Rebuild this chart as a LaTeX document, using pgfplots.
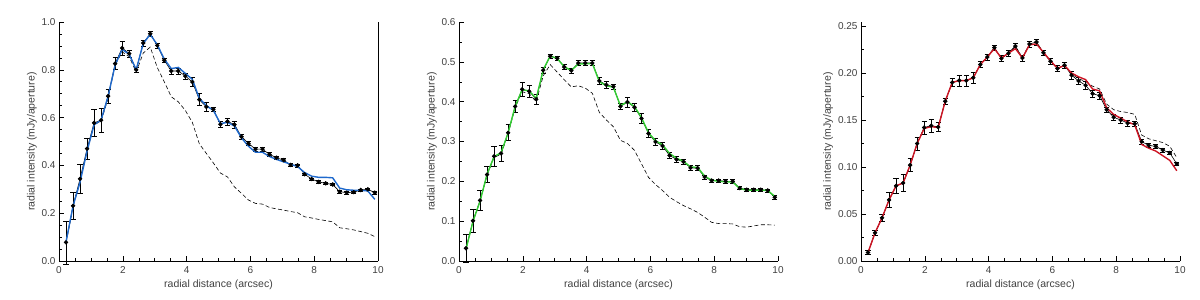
\documentclass[border=0pt]{standalone}
\usepackage{pgfplots}
\usepackage{pgfplotstable}
\usepackage{fontspec}
\setmainfont{Liberation Sans}
\pgfplotsset{compat=1.18}
\definecolor{cblue}{RGB}{30,105,205}
\definecolor{cgreen}{RGB}{50,205,50}
\definecolor{cred}{RGB}{205,20,35}

\pgfplotstableread{
x y e l d
0.22 0.078 0.090 0.080 0.075
0.44 0.231 0.055 0.230 0.225
0.66 0.344 0.060 0.330 0.335
0.88 0.470 0.045 0.460 0.460
1.10 0.578 0.055 0.570 0.570
1.32 0.589 0.050 0.590 0.585
1.54 0.690 0.030 0.690 0.680
1.76 0.826 0.025 0.820 0.820
1.98 0.891 0.030 0.885 0.875
2.20 0.868 0.015 0.865 0.855
2.42 0.800 0.012 0.800 0.790
2.64 0.912 0.012 0.910 0.870
2.86 0.951 0.010 0.948 0.895
3.08 0.902 0.010 0.905 0.810
3.30 0.840 0.010 0.845 0.750
3.52 0.795 0.012 0.805 0.687
3.74 0.795 0.012 0.810 0.666
3.96 0.774 0.012 0.785 0.630
4.18 0.749 0.020 0.760 0.580
4.40 0.675 0.025 0.680 0.490
4.62 0.645 0.020 0.650 0.450
4.84 0.635 0.010 0.630 0.410
5.06 0.572 0.012 0.575 0.368
5.28 0.584 0.015 0.580 0.352
5.50 0.571 0.015 0.565 0.310
5.72 0.520 0.010 0.515 0.283
5.94 0.492 0.008 0.480 0.255
6.16 0.468 0.008 0.455 0.241
6.38 0.468 0.008 0.455 0.238
6.60 0.446 0.008 0.437 0.224
6.82 0.432 0.006 0.425 0.218
7.04 0.422 0.006 0.415 0.213
7.26 0.402 0.006 0.405 0.207
7.48 0.400 0.006 0.395 0.202
7.70 0.363 0.005 0.370 0.185
7.92 0.343 0.005 0.355 0.180
8.14 0.331 0.005 0.350 0.174
8.36 0.325 0.005 0.350 0.169
8.58 0.320 0.005 0.348 0.164
8.80 0.290 0.005 0.305 0.139
9.02 0.286 0.005 0.298 0.135
9.24 0.288 0.005 0.296 0.130
9.46 0.297 0.005 0.296 0.123
9.68 0.300 0.005 0.293 0.116
9.90 0.286 0.005 0.258 0.102
}\tabA

\pgfplotstableread{
x y e l d
0.22 0.032 0.035 0.030 0.030
0.44 0.101 0.030 0.100 0.100
0.66 0.152 0.025 0.150 0.150
0.88 0.217 0.020 0.218 0.215
1.10 0.263 0.025 0.262 0.260
1.32 0.270 0.020 0.272 0.268
1.54 0.322 0.020 0.322 0.320
1.76 0.388 0.015 0.388 0.385
1.98 0.431 0.017 0.430 0.425
2.20 0.426 0.015 0.427 0.420
2.42 0.406 0.012 0.408 0.400
2.64 0.479 0.008 0.480 0.465
2.86 0.514 0.006 0.515 0.493
3.08 0.509 0.006 0.508 0.474
3.30 0.487 0.006 0.488 0.455
3.52 0.478 0.006 0.478 0.437
3.74 0.497 0.006 0.495 0.440
3.96 0.497 0.006 0.495 0.434
4.18 0.497 0.006 0.496 0.421
4.40 0.452 0.008 0.450 0.373
4.62 0.442 0.008 0.440 0.354
4.84 0.438 0.006 0.436 0.337
5.06 0.388 0.008 0.390 0.303
5.28 0.399 0.012 0.400 0.295
5.50 0.386 0.010 0.388 0.278
5.72 0.358 0.012 0.360 0.244
5.94 0.320 0.010 0.322 0.210
6.16 0.299 0.008 0.302 0.192
6.38 0.289 0.008 0.292 0.177
6.60 0.265 0.008 0.270 0.160
6.82 0.255 0.007 0.258 0.149
7.04 0.249 0.007 0.250 0.139
7.26 0.234 0.006 0.236 0.131
7.48 0.233 0.006 0.235 0.122
7.70 0.211 0.005 0.213 0.110
7.92 0.202 0.004 0.203 0.097
8.14 0.202 0.004 0.200 0.094
8.36 0.200 0.004 0.199 0.094
8.58 0.200 0.004 0.198 0.093
8.80 0.183 0.004 0.182 0.086
9.02 0.179 0.004 0.178 0.085
9.24 0.179 0.004 0.178 0.088
9.46 0.179 0.004 0.178 0.091
9.68 0.177 0.004 0.177 0.091
9.90 0.160 0.004 0.162 0.090
}\tabB

\pgfplotstableread{
x y e l d
0.22 0.009 0.002 0.009 0.009
0.44 0.030 0.003 0.030 0.030
0.66 0.046 0.004 0.046 0.046
0.88 0.065 0.008 0.065 0.065
1.10 0.080 0.008 0.080 0.080
1.32 0.083 0.009 0.083 0.083
1.54 0.102 0.007 0.102 0.102
1.76 0.125 0.007 0.125 0.125
1.98 0.142 0.007 0.141 0.142
2.20 0.144 0.007 0.143 0.144
2.42 0.1425 0.005 0.142 0.1425
2.64 0.170 0.003 0.170 0.170
2.86 0.190 0.004 0.190 0.190
3.08 0.192 0.006 0.192 0.192
3.30 0.192 0.006 0.192 0.192
3.52 0.195 0.006 0.195 0.195
3.74 0.209 0.003 0.209 0.209
3.96 0.217 0.003 0.217 0.217
4.18 0.227 0.003 0.226 0.227
4.40 0.2155 0.003 0.216 0.2155
4.62 0.221 0.003 0.221 0.221
4.84 0.2286 0.003 0.226 0.2286
5.06 0.216 0.003 0.216 0.216
5.28 0.2308 0.003 0.230 0.2308
5.50 0.233 0.003 0.231 0.233
5.72 0.2215 0.003 0.222 0.2215
5.94 0.2126 0.003 0.213 0.2126
6.16 0.2048 0.003 0.205 0.2048
6.38 0.2083 0.003 0.208 0.2083
6.60 0.1977 0.004 0.200 0.199
6.82 0.1916 0.004 0.196 0.194
7.04 0.187 0.004 0.193 0.191
7.26 0.178 0.004 0.183 0.186
7.48 0.176 0.004 0.181 0.183
7.70 0.161 0.003 0.163 0.167
7.92 0.153 0.003 0.156 0.161
8.14 0.150 0.003 0.152 0.159
8.36 0.1467 0.003 0.148 0.158
8.58 0.146 0.003 0.145 0.156
8.80 0.127 0.003 0.124 0.134
9.02 0.123 0.002 0.120 0.130
9.24 0.122 0.002 0.117 0.128
9.46 0.118 0.002 0.112 0.126
9.68 0.115 0.002 0.107 0.122
9.90 0.1033 0.002 0.096 0.110
}\tabC

\pgfplotsset{
  panel/.style={
    scale only axis, width=319pt, height=239pt,
    xmin=0, xmax=10, ymin=0,
    axis x line*=bottom, axis y line*=left,
    axis line style={black, line width=0.6pt},
    tick align=inside, tick style={black, line width=0.5pt},
    major tick length=5pt, minor tick length=3pt,
    xtick={0,2,...,10}, minor x tick num=3,
    /pgf/number format/assume math mode=true,
    tick label style={font=\fontsize{10}{12}\selectfont, text=black!75},
    xticklabel style={yshift=-2pt},
    label style={font=\fontsize{10.5}{12}\selectfont, text=black!75},
    xlabel={radial distance (arcsec)},
    ylabel={radial intensity (mJy/aperture)},
    xlabel style={yshift=1pt},
    ylabel style={yshift=-2pt},
    clip=false,
  },
  dsh/.style={black, line width=0.6pt, dash pattern=on 4pt off 2.5pt},
  pts/.style={black, line width=0.6pt, mark=*, mark size=1.9pt,
    error bars/.cd, y dir=both, y explicit,
    error bar style={line width=0.6pt},
    error mark options={rotate=90, mark size=2.6pt, line width=0.6pt}},
}

\begin{document}
\begin{tikzpicture}
\path[use as bounding box] (0,0) rectangle (1200pt,300pt);

\begin{axis}[panel, at={(59pt,39pt)}, anchor=south west,
  ymax=1.0, ytick={0,0.2,...,1.0}, minor y tick num=3,
  yticklabel style={/pgf/number format/.cd, fixed, fixed zerofill, precision=1}]
  \addplot[dsh] table[x=x, y=d] {\tabA};
  \addplot[pts] table[x=x, y=y, y error=e] {\tabA};
  \addplot[cblue, line width=1.4pt] table[x=x, y=l] {\tabA};
  \draw[black, line width=0.6pt] (rel axis cs:1,0) -- (rel axis cs:1,1);
\end{axis}

\begin{axis}[panel, at={(459pt,39pt)}, anchor=south west,
  ymax=0.6, ytick={0,0.1,...,0.6}, minor y tick num=1,
  yticklabel style={/pgf/number format/.cd, fixed, fixed zerofill, precision=1}]
  \addplot[dsh] table[x=x, y=d] {\tabB};
  \addplot[pts] table[x=x, y=y, y error=e] {\tabB};
  \addplot[cgreen, line width=1.4pt] table[x=x, y=l] {\tabB};
\end{axis}

\begin{axis}[panel, at={(861pt,39pt)}, anchor=south west,
  ymax=0.2543, ytick={0,0.05,...,0.25}, minor y tick num=1,
  yticklabel style={/pgf/number format/.cd, fixed, fixed zerofill, precision=2}]
  \addplot[dsh] table[x=x, y=d] {\tabC};
  \addplot[pts] table[x=x, y=y, y error=e] {\tabC};
  \addplot[cred, line width=1.4pt] table[x=x, y=l] {\tabC};
\end{axis}
\end{tikzpicture}
\end{document}
